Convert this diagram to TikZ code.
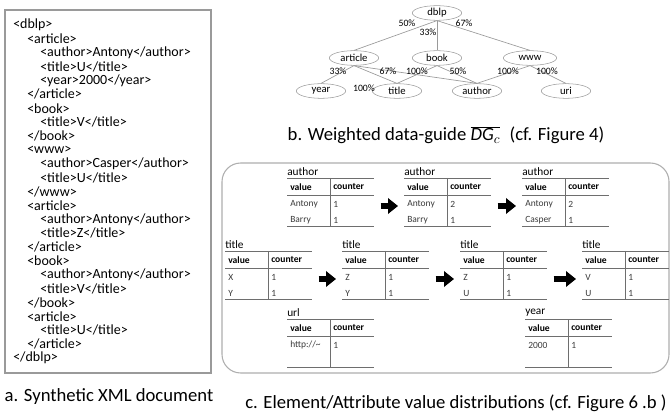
\documentclass[tikz,border=0pt]{standalone}
\usepackage{fontspec}
\setmainfont{Carlito}
\usetikzlibrary{shapes.geometric,arrows.meta}

\definecolor{rulegray}{HTML}{6E6E6E}
\definecolor{boxgray}{HTML}{9A9A9A}
\definecolor{datagray}{HTML}{3A3A3A}

% one value-distribution table: name, left x, top y, label, row entries
\newcommand{\disttable}[8]{%
  \node[tlabel] (#1-lab) at (#2,#3-6) {#4};
  \draw[trule] (#2,#3) -- (#2+87,#3);
  \draw[trule] (#2,#3+17) -- (#2+87,#3+17);
  \draw[trule] (#2,#3+48) -- (#2+87,#3+48);
  \draw[trule] (#2+43,#3) -- (#2+43,#3+48);
  \node[thead] (#1-h1) at (#2+3,#3+9) {value};
  \node[thead] (#1-h2) at (#2+46,#3+9) {counter};
  \node[tdata] (#1-a1) at (#2+3,#3+26) {#5};
  \node[tdata] (#1-b1) at (#2+46,#3+26) {#6};
  \node[tdata] (#1-a2) at (#2+3,#3+42) {#7};
  \node[tdata] (#1-b2) at (#2+46,#3+42) {#8};
  \coordinate (#1-w) at (#2,#3+28);
  \coordinate (#1-e) at (#2+87,#3+28);
}

\begin{document}
\begin{tikzpicture}[x=0.75pt,y=-0.75pt,
    xml/.style={anchor=west, inner sep=0pt, font=\fontsize{10.5}{12}\selectfont},
    caption/.style={inner sep=0pt, font=\fontsize{14}{16}\selectfont},
    elem/.style={ellipse, draw=boxgray, minimum width=37pt, minimum height=11pt, inner sep=0pt, font=\fontsize{8}{9}\selectfont},
    pct/.style={inner sep=0pt, font=\fontsize{7.3}{8}\selectfont},
    link/.style={draw=boxgray, line width=0.5pt},
    tlabel/.style={anchor=west, inner sep=0pt, font=\fontsize{8.5}{9}\selectfont},
    thead/.style={anchor=west, inner sep=0pt, font=\fontsize{7.2}{8}\selectfont\bfseries},
    tdata/.style={anchor=west, inner sep=0pt, text=datagray, font=\fontsize{7.1}{8}\selectfont},
    trule/.style={draw=rulegray, line width=0.6pt},
    flow/.style={line width=5.2pt, -{Triangle[length=7.5pt, width=11.5pt]}, shorten <=5pt, shorten >=4.5pt}]
\useasboundingbox (0,0) rectangle (671,413);

% a. synthetic XML document
\draw[draw=boxgray, line width=0.8pt] (5,10) rectangle (211,373);
\node[xml] (x1) at (13,25.0) {<dblp>};
\node[xml] (x2) at (27,38.9) {<article>};
\node[xml] (x3) at (40,52.8) {<author>Antony</author>};
\node[xml] (x4) at (40,66.6) {<title>U</title>};
\node[xml] (x5) at (40,80.5) {<year>2000</year>};
\node[xml] (x6) at (27,94.4) {</article>};
\node[xml] (x7) at (27,108.3) {<book>};
\node[xml] (x8) at (40,122.1) {<title>V</title>};
\node[xml] (x9) at (27,136.0) {</book>};
\node[xml] (x10) at (27,149.9) {<www>};
\node[xml] (x11) at (40,163.8) {<author>Casper</author>};
\node[xml] (x12) at (40,177.6) {<title>U</title>};
\node[xml] (x13) at (27,191.5) {</www>};
\node[xml] (x14) at (27,205.4) {<article>};
\node[xml] (x15) at (40,219.3) {<author>Antony</author>};
\node[xml] (x16) at (40,233.1) {<title>Z</title>};
\node[xml] (x17) at (27,247.0) {</article>};
\node[xml] (x18) at (27,260.9) {<book>};
\node[xml] (x19) at (40,274.8) {<author>Antony</author>};
\node[xml] (x20) at (40,288.6) {<title>V</title>};
\node[xml] (x21) at (27,302.5) {</book>};
\node[xml] (x22) at (27,316.4) {<article>};
\node[xml] (x23) at (40,330.3) {<title>U</title>};
\node[xml] (x24) at (27,344.1) {</article>};
\node[xml] (x25) at (13,358.0) {</dblp>};
\node[caption] (capa) at (109,397) {a. Synthetic XML document};

% b. weighted data-guide
\node[elem] (dblp) at (437,13) {dblp};
\node[elem] (article) at (354,58) {article};
\node[elem] (book) at (437,58) {book};
\node[elem, minimum width=40pt] (www) at (530,58) {www};
\node[elem] (year) at (321,91) {year};
\node[elem] (title) at (397,91) {title};
\node[elem] (author) at (477,91) {author};
\node[elem] (uri) at (566,91) {uri};
\path (dblp.south) edge[link] (article.north);
\path (dblp.south) edge[link] (book.north);
\path (dblp.south) edge[link] (www.north);
\path (article.south) edge[link] (year.north);
\path (article.south) edge[link] (title.north);
\path (article.south) edge[link] (author.north);
\path (book.south) edge[link] (title.north);
\path (book.south) edge[link] (author.north);
\path (www.south) edge[link] (author.north);
\path (www.south) edge[link] (uri.north);
\node[pct] (p1) at (407,23) {50\%};
\node[pct] (p2) at (428,32) {33\%};
\node[pct] (p3) at (464,23) {67\%};
\node[pct] (p4) at (338,71) {33\%};
\node[pct] (p5) at (388,71) {67\%};
\node[pct] (p6) at (364,88) {100\%};
\node[pct] (p7) at (417,71) {100\%};
\node[pct] (p8) at (458,71) {50\%};
\node[pct] (p9) at (508,71) {100\%};
\node[pct] (p10) at (547,71) {100\%};
\node[caption] (capb) at (446,135) {b. Weighted data-guide $\overline{\mathit{DG}_{c}}$\enspace(cf. Figure 4)};

% c. element/attribute value distributions
\draw[draw=boxgray!80, line width=0.8pt, rounded corners=14pt] (222,163) rectangle (669,373);
\disttable{au1}{287}{178}{author}{Antony}{1}{Barry}{1}
\disttable{au2}{404}{178}{author}{Antony}{2}{Barry}{1}
\disttable{au3}{522}{178}{author}{Antony}{2}{Casper}{1}
\disttable{ti1}{225}{251}{title}{X}{1}{Y}{1}
\disttable{ti2}{342}{251}{title}{Z}{1}{Y}{1}
\disttable{ti3}{460}{251}{title}{Z}{1}{U}{1}
\disttable{ti4}{582}{251}{title}{V}{1}{U}{1}
\disttable{url}{287}{319}{url}{http://\textasciitilde}{1}{}{}
\disttable{yr}{525}{319}{year}{2000}{1}{}{}
\draw[flow] (au1-e) -- (au2-w);
\draw[flow] (au2-e) -- (au3-w);
\draw[flow] (ti1-e) -- (ti2-w);
\draw[flow] (ti2-e) -- (ti3-w);
\draw[flow] (ti3-e) -- (ti4-w);
\node[caption] (capc) at (456,403) {c. Element/Attribute value distributions (cf. Figure 6 .b )};
\end{tikzpicture}
\end{document}
